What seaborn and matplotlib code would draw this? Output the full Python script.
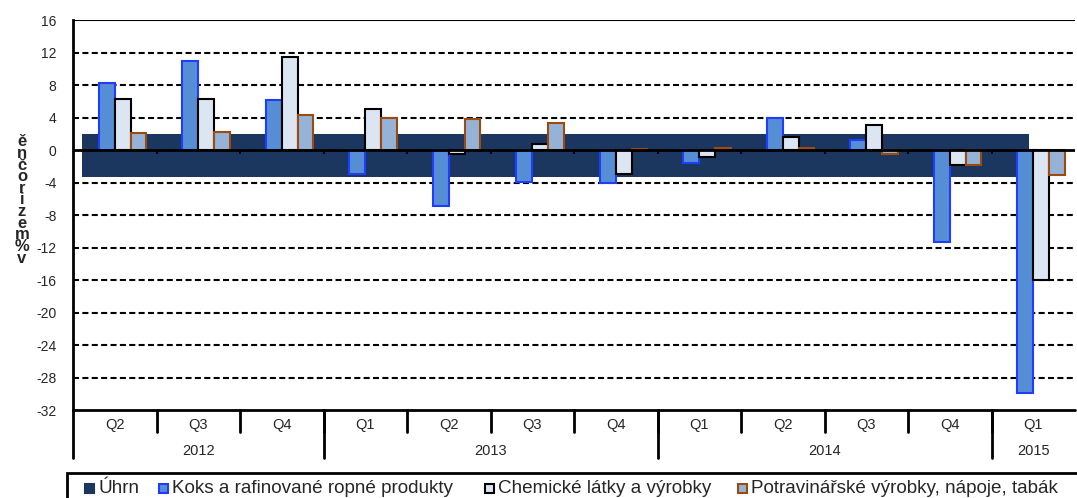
import numpy as np
import pandas as pd
import seaborn as sns
import matplotlib
matplotlib.use("Agg")
import matplotlib.pyplot as plt
from matplotlib.patches import Rectangle
from matplotlib.transforms import blended_transform_factory
from matplotlib.colors import to_hex

# Data
kvartaly = ["Q2", "Q3", "Q4", "Q1", "Q2", "Q3", "Q4", "Q1", "Q2", "Q3", "Q4", "Q1"]
roky = ["2012"] * 3 + ["2013"] * 4 + ["2014"] * 4 + ["2015"]
koks = [8.2, 11.0, 6.1, -2.95, -6.9, -3.9, -4.1, -1.6, 3.9, 1.2, -11.3, -29.9]
chem = [6.3, 6.3, 11.5, 5.1, -0.55, 0.7, -2.9, -0.9, 1.6, 3.1, -1.8, -16.0]
potr = [2.05, 2.2, 4.35, 4.0, 3.8, 3.35, 0.15, 0.3, 0.3, -0.55, -1.9, -3.1]
uhrn_hi = [1.96] * 11
uhrn_lo = [-3.37] * 11

rady = ["Úhrn", "Koks a rafinované ropné produkty", "Chemické látky a výrobky",
        "Potravinářské výrobky, nápoje, tabák"]
barvy = {rady[0]: "#1b375f", rady[1]: "#558ed5", rady[2]: "#dce6f2", rady[3]: "#95b3d7"}
okraje = {rady[0]: "#1b375f", rady[1]: "#1f3cff", rady[2]: "#000000", rady[3]: "#9c4a0e"}

osa_x = [f"{r} {q}" for r, q in zip(roky, kvartaly)]
df = pd.DataFrame({
    "kvartal": osa_x * 3,
    "rada": [rady[1]] * 12 + [rady[2]] * 12 + [rady[3]] * 12,
    "hodnota": koks + chem + potr,
})

sns.set_style("white")
plt.rcParams["font.family"] = ["Liberation Sans", "DejaVu Sans"]
plt.rcParams["axes.unicode_minus"] = False

fig = plt.figure(figsize=(10.77, 4.98), dpi=100)
ax = fig.add_axes([73 / 1077, 88 / 498, 1002 / 1077, 390 / 498])

# Úhrn - tmavý pás
ax.bar(np.arange(11) + 0.28, np.array(uhrn_hi) - np.array(uhrn_lo), bottom=uhrn_lo,
       width=1.34, color=barvy[rady[0]], linewidth=0, zorder=1)

sns.barplot(data=df, x="kvartal", y="hodnota", hue="rada", hue_order=rady, order=osa_x,
            palette=barvy, saturation=1, width=0.76, errorbar=None, legend=False,
            linewidth=1.5, ax=ax, zorder=2)

mapa = {to_hex(barvy[r]): okraje[r] for r in rady[1:]}
for p in ax.patches:
    fc = to_hex(p.get_facecolor())
    if fc in mapa and p.get_zorder() == 2:
        p.set_edgecolor(mapa[fc])

ax.set_xlim(-0.5, 11.5)
ax.set_ylim(-32, 16)
ax.set_yticks(np.arange(-32, 17, 4))
ax.set_xticks([])
ax.set_xlabel("")
ax.set_ylabel("")
ax.tick_params(axis="y", length=0, pad=12, labelsize=10)
for s in ["top", "right", "bottom"]:
    ax.spines[s].set_visible(False)
ax.spines["left"].set_linewidth(2)
ax.spines["left"].set_color("black")

for t in np.arange(-28, 16, 4):
    if t != 0:
        ax.axhline(t, color="black", lw=1.5, ls=(0, (2.9, 1.6)), zorder=0.5)
ax.axhline(16, color="black", lw=1.5, zorder=3)
ax.axhline(0, color="black", lw=2, zorder=3)
ax.axhline(-32, color="black", lw=2, zorder=3, clip_on=False)
hranice = np.arange(1, 12) - 0.5
ax.vlines(hranice, -0.45, 0, color="black", lw=1.5, zorder=3)

# popisky kategorii pod osou
tr = blended_transform_factory(ax.transData, ax.transAxes)
for i, q in enumerate(kvartaly):
    ax.text(i, -0.038, q, transform=tr, ha="center", va="center", fontsize=10.5)
for b in hranice:
    ax.plot([b, b], [0, -0.056], transform=tr, color="black", lw=2, clip_on=False)
roky_u = list(dict.fromkeys(roky))
for r in roky_u:
    idx = [i for i, v in enumerate(roky) if v == r]
    ax.text(np.mean(idx), -0.105, r, transform=tr, ha="center", va="center", fontsize=10.5)
    ax.plot([idx[0] - 0.5] * 2, [0, -0.123], transform=tr, color="black", lw=2, clip_on=False)

# popisek osy y
fig.text(22 / 1077, 1 - 200 / 498, "\n".join(reversed("v%meziročně")), ha="center",
         va="center", fontsize=12, fontweight="bold", linespacing=0.72)

# legenda
fig.add_artist(Rectangle((67 / 1077, -0.05), 1.2, 0.05 + 25 / 498, transform=fig.transFigure,
                         fill=False, edgecolor="black", lw=2, clip_on=False))
leg_x = [85, 159, 485, 738]
for x, r in zip(leg_x, rady):
    fig.add_artist(Rectangle((x / 1077, 1 - 493 / 498), 9 / 1077, 9 / 498,
                             transform=fig.transFigure, facecolor=barvy[r],
                             edgecolor=okraje[r], lw=1.5))
    fig.text((x + 13) / 1077, 1 - 488 / 498, r, ha="left", va="center", fontsize=13.6)

fig.savefig("out.png", dpi=100)
